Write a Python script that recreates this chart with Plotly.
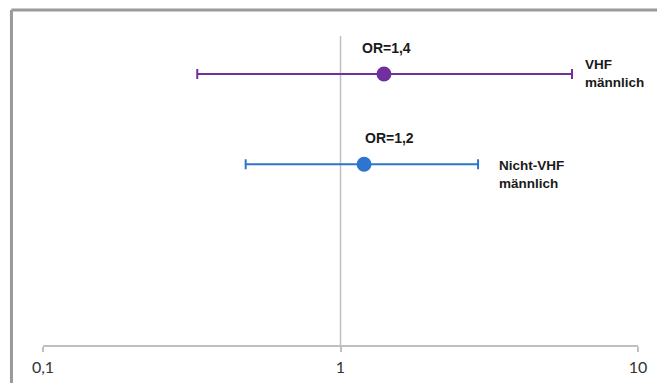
import math
import plotly.graph_objects as go

# Odds ratios with 95% confidence intervals
groups = ["VHF<br>männlich", "Nicht-VHF<br>männlich"]
odds_ratio = [1.4, 1.2]
ci_lower = [0.33, 0.48]
ci_upper = [6.0, 2.9]
row_pos = [3, 2]
colors = ["#7030A0", "#2E75D0"]

tick_vals = [0.1, 1, 10]
tick_text = ["0,1", "1", "10"]

fig = go.Figure()

for i in range(len(odds_ratio)):
    fig.add_trace(go.Scatter(
        x=[odds_ratio[i]], y=[row_pos[i]],
        mode="markers",
        marker=dict(size=15, color=colors[i]),
        error_x=dict(
            type="data", symmetric=False,
            array=[ci_upper[i] - odds_ratio[i]],
            arrayminus=[odds_ratio[i] - ci_lower[i]],
            color=colors[i], thickness=2, width=5,
        ),
        showlegend=False, hoverinfo="skip",
    ))

# Reference line at OR = 1
fig.add_shape(type="line", xref="x", yref="y", x0=1, x1=1, y0=0, y1=3.42,
              line=dict(color="#BFBFBF", width=1.5), layer="below")

label_font = dict(family="Liberation Sans, Arial", size=14, color="#1a1a1a")

# OR value labels above each marker (annotation x on a log axis is log10)
or_xshift = [3, 25]
for i in range(len(odds_ratio)):
    fig.add_annotation(
        x=math.log10(odds_ratio[i]), y=row_pos[i], xref="x", yref="y",
        text="<b>OR=" + f"{odds_ratio[i]:.1f}".replace(".", ",") + "</b>",
        showarrow=False, yshift=26, xshift=or_xshift[i],
        font=label_font,
    )

# Two-line group labels to the right of each interval
name_xshift = [11, 19]
name_yshift = [0, -10]
for i in range(len(odds_ratio)):
    fig.add_annotation(
        x=math.log10(ci_upper[i]), y=row_pos[i], xref="x", yref="y",
        text="<b>" + groups[i] + "</b>",
        showarrow=False, xanchor="left", align="left",
        xshift=name_xshift[i], yshift=name_yshift[i],
        font=dict(label_font, size=13.5),
    )

# Chart frame (top and left edges)
frame = dict(color="#9A9A9A", width=3)
fig.add_shape(type="line", xref="paper", yref="paper",
              x0=-0.053, x1=1.04, y0=1.084, y1=1.084, line=frame)
fig.add_shape(type="line", xref="paper", yref="paper",
              x0=-0.053, x1=-0.053, y0=1.084, y1=-0.2, line=frame)

fig.update_layout(
    width=657, height=383,
    margin=dict(l=43, r=19, t=36, b=38),
    paper_bgcolor="white", plot_bgcolor="white",
    xaxis=dict(
        type="log", range=[-1, 1],
        tickvals=tick_vals, ticktext=tick_text,
        showgrid=False, zeroline=False,
        showline=True, linecolor="#BFBFBF", linewidth=1.5,
        ticks="outside", ticklen=5, tickcolor="#BFBFBF", tickwidth=1.5,
        ticklabelstandoff=2, automargin=False,
        tickfont=dict(family="Lato, Liberation Sans", size=16, color="#333333"),
    ),
    yaxis=dict(range=[0, 3.42], visible=False),
)

fig.write_html("out.html")
